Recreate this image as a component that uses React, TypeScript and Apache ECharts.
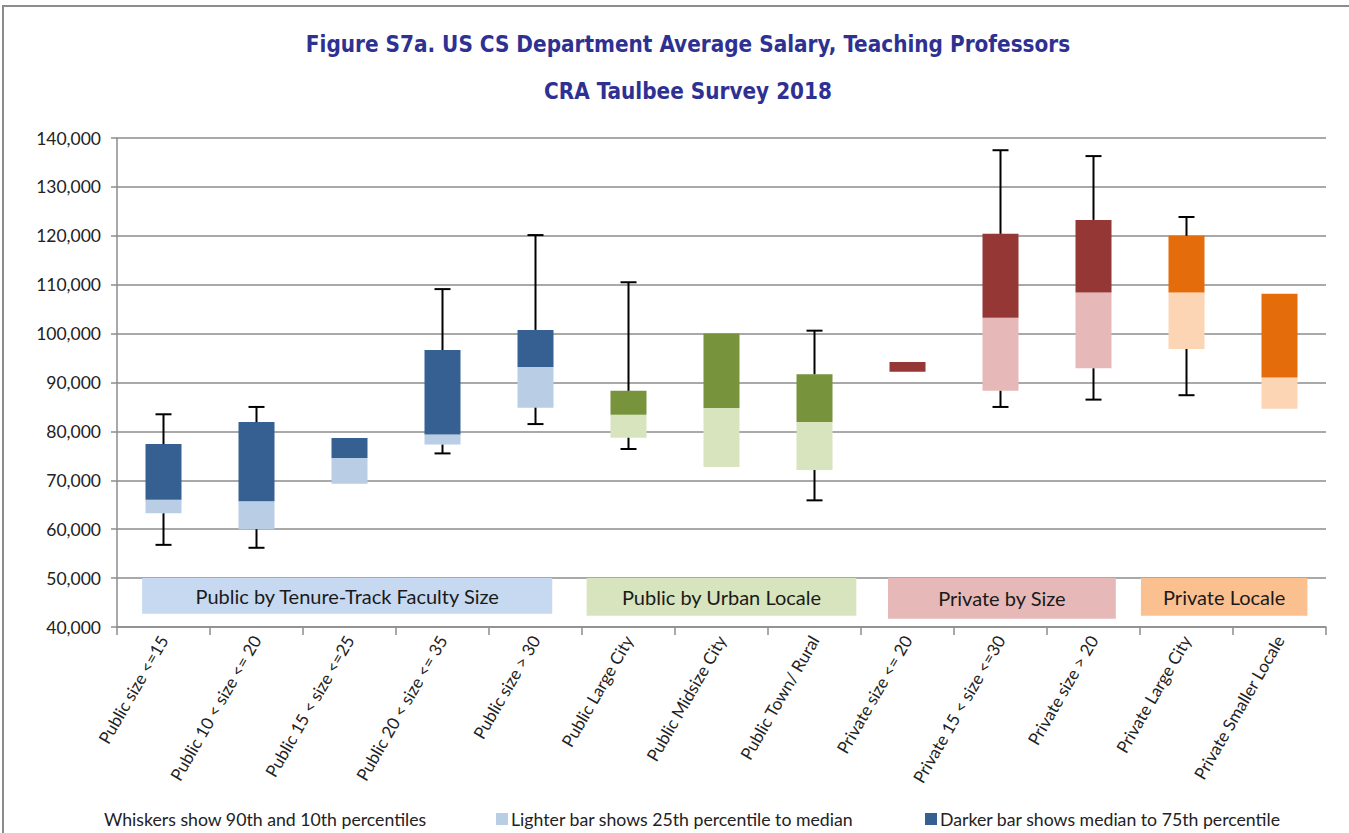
import React, { useEffect, useRef } from "react";
import * as echarts from "echarts";

const categories = [
  "Public size <=15",
  "Public 10 < size <= 20",
  "Public 15 < size <=25",
  "Public 20 < size <= 35",
  "Public size > 30",
  "Public Large City",
  "Public Midsize City",
  "Public Town/ Rural",
  "Private size <= 20",
  "Private 15 < size <=30",
  "Private size > 20",
  "Private Large City",
  "Private Smaller Locale",
];
const p10 = [56800, 56200, null, 75500, 81500, 76400, null, 65900, null, 85000, 86500, 87400, null];
const q1 = [63250, 60000, 69300, 77300, 84850, 78700, 72700, 72100, 92200, 88300, 92900, 96850, 84650];
const median = [66000, 65700, 74550, 79350, 93150, 83400, 84800, 81900, 92200, 103250, 108400, 108400, 91000];
const q3 = [77400, 81900, 78650, 96650, 100750, 88300, 100000, 91700, 94200, 120400, 123250, 120000, 108150];
const p90 = [83500, 85000, null, 109100, 120150, 110500, null, 100600, null, 137500, 136300, 123850, null];
const groupOf = [0, 0, 0, 0, 0, 1, 1, 1, 2, 2, 2, 3, 3];

const groupDark = ["#376092", "#77933c", "#953735", "#e46c0a"];
const groupLight = ["#b9cde5", "#d7e4bd", "#e6b9b8", "#fcd5b5"];

const groupLabels = ["Public by Tenure-Track Faculty Size", "Public by Urban Locale", "Private by Size", "Private Locale"];
const groupStart = [0.27, 5.05, 8.29, 11.01];
const groupEnd = [4.68, 7.95, 10.74, 12.8];
const groupTop = [50000, 50000, 50000, 50000];
const groupBottom = [42700, 42300, 41700, 42300];
const groupFill = ["#c6d9f1", "#d7e4bd", "#e6b9b8", "#fac090"];

const whiskerName = "Whiskers show 90th and 10th percentiles";
const lightName = "Lighter bar shows 25th percentile to median";
const darkName = "Darker bar shows median to 75th percentile";

const FONT = "Lato";

export default function App() {
  const ref = useRef<HTMLDivElement>(null);
  useEffect(() => {
    const chart = echarts.init(ref.current!, null, { renderer: "svg" });
    const option: any = {
      animation: false,
      backgroundColor: "#ffffff",
      textStyle: { fontFamily: FONT },
      title: [
        {
          text: "Figure S7a. US CS Department Average Salary, Teaching Professors",
          left: 683,
          textAlign: "center",
          top: 28,
          textStyle: { fontFamily: "DejaVu Sans Condensed", fontWeight: "bold", fontSize: 22.3, color: "#2e3192" },
        },
        {
          text: "CRA Taulbee Survey 2018",
          left: 683,
          textAlign: "center",
          top: 75,
          textStyle: { fontFamily: "DejaVu Sans Condensed", fontWeight: "bold", fontSize: 22.3, color: "#2e3192" },
        },
      ],
      legend: [
        {
          left: 104, top: 810, icon: "none", itemWidth: 0, itemHeight: 12, itemGap: 0, padding: 0,
          data: [whiskerName], selectedMode: false,
          textStyle: { fontFamily: FONT, fontSize: 17.7, color: "#222", padding: [0, 0, 0, -5] },
        },
        {
          left: 496, top: 810, icon: "rect", itemWidth: 12, itemHeight: 12, itemGap: 4, padding: 0,
          data: [lightName], selectedMode: false,
          textStyle: { fontFamily: FONT, fontSize: 17.7, color: "#222", padding: [0, 0, 0, -2] },
        },
        {
          left: 925, top: 810, icon: "rect", itemWidth: 12, itemHeight: 12, itemGap: 4, padding: 0,
          data: [darkName], selectedMode: false,
          textStyle: { fontFamily: FONT, fontSize: 17.7, color: "#222", padding: [0, 0, 0, -2] },
        },
      ],
      grid: { left: 117, right: 23, top: 138, bottom: 206, containLabel: false },
      xAxis: [
        {
          type: "category",
          data: categories,
          axisLine: { lineStyle: { color: "#8c8c8c", width: 1.5 } },
          axisTick: { show: true, length: 8, lineStyle: { color: "#8c8c8c", width: 1.5 } },
          axisLabel: { rotate: 60, fontFamily: FONT, fontSize: 17, color: "#222", margin: 10, interval: 0 },
          splitLine: { show: false },
        },
        { type: "value", min: 0, max: 13, show: false },
      ],
      yAxis: {
        type: "value",
        min: 40000,
        max: 140000,
        interval: 10000,
        axisLine: { show: true, lineStyle: { color: "#8c8c8c", width: 1.5 } },
        axisTick: { show: true, length: 6, lineStyle: { color: "#8c8c8c", width: 1.5 } },
        axisLabel: {
          fontFamily: FONT, fontSize: 17.5, color: "#222", margin: 16,
          formatter: (v: number) => v.toLocaleString("en-US"),
        },
        splitLine: { show: true, lineStyle: { color: "#8c8c8c", width: 1.5 } },
      },
      series: [
        {
          type: "custom",
          name: "groups",
          xAxisIndex: 1,
          silent: true,
          z: 1,
          data: groupLabels.map((l, i) => [groupStart[i], groupEnd[i], groupTop[i], groupBottom[i], i]),
          encode: { x: [0, 1], y: [2, 3] },
          renderItem: (params: any, api: any) => {
            const a = api.coord([api.value(0), api.value(2)]);
            const b = api.coord([api.value(1), api.value(3)]);
            const i = api.value(4);
            return {
              type: "group",
              children: [
                { type: "rect", shape: { x: a[0], y: a[1], width: b[0] - a[0], height: b[1] - a[1] }, style: { fill: groupFill[i] } },
                {
                  type: "text",
                  x: (a[0] + b[0]) / 2,
                  y: (a[1] + b[1]) / 2,
                  style: { text: groupLabels[i], fontFamily: FONT, fontSize: 20, fill: "#1a1a1a", align: "center", verticalAlign: "middle" },
                },
              ],
            };
          },
        },
        {
          type: "bar",
          name: "base",
          stack: "box",
          barWidth: 36,
          silent: true,
          itemStyle: { color: "rgba(0,0,0,0)" },
          data: q1,
        },
        {
          type: "bar",
          name: lightName,
          stack: "box",
          barWidth: 36,
          itemStyle: { color: groupLight[0] },
          data: q1.map((v, i) => ({ value: median[i] - v, itemStyle: { color: groupLight[groupOf[i]] } })),
        },
        {
          type: "bar",
          name: darkName,
          stack: "box",
          barWidth: 36,
          itemStyle: { color: groupDark[0] },
          data: median.map((v, i) => ({ value: q3[i] - v, itemStyle: { color: groupDark[groupOf[i]] } })),
        },
        {
          type: "custom",
          name: whiskerName,
          itemStyle: { color: "#000" },
          z: 5,
          data: categories.map((c, i) => [i, q3[i], p90[i] ?? q3[i], q1[i], p10[i] ?? q1[i], p90[i] == null ? 0 : 1]),
          encode: { x: 0, y: [1, 2, 3, 4] },
          renderItem: (params: any, api: any) => {
            if (!api.value(5)) return { type: "group", children: [] };
            const i = api.value(0);
            const top = api.coord([i, api.value(2)]);
            const q3p = api.coord([i, api.value(1)]);
            const bot = api.coord([i, api.value(4)]);
            const q1p = api.coord([i, api.value(3)]);
            const cap = 8;
            const st = { stroke: "#000", lineWidth: 2 };
            return {
              type: "group",
              children: [
                { type: "line", shape: { x1: top[0], y1: top[1], x2: q3p[0], y2: q3p[1] }, style: st },
                { type: "line", shape: { x1: top[0] - cap, y1: top[1], x2: top[0] + cap, y2: top[1] }, style: st },
                { type: "line", shape: { x1: bot[0], y1: bot[1], x2: q1p[0], y2: q1p[1] }, style: st },
                { type: "line", shape: { x1: bot[0] - cap, y1: bot[1], x2: bot[0] + cap, y2: bot[1] }, style: st },
              ],
            };
          },
        },
      ],
      graphic: [
        {
          type: "rect",
          shape: { x: 3, y: 6, width: 1400, height: 900 },
          style: { fill: "none", stroke: "#8c8c8c", lineWidth: 2 },
          silent: true,
        },
      ],
    };
    chart.setOption(option);
    return () => chart.dispose();
  }, []);
  return <div ref={ref} style={{ width: 1349, height: 833, position: "absolute", left: 0, top: 0 }} />;
}
